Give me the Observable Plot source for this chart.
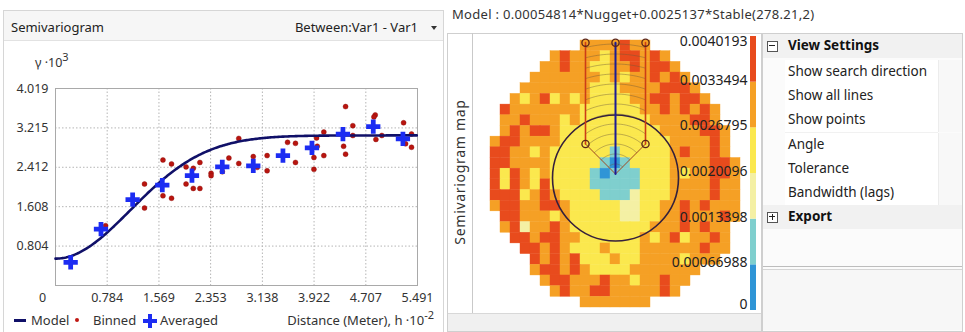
<!DOCTYPE html>
<html><head><meta charset="utf-8">
<script src="https://cdn.jsdelivr.net/npm/d3@7"></script>
<script src="https://cdn.jsdelivr.net/npm/@observablehq/plot@0.6"></script>
<style>
html,body{margin:0;padding:0}
body{width:965px;height:332px;background:#fff;font-family:"Noto Sans",sans-serif;color:#222;position:relative;overflow:hidden}
.abs{position:absolute}
.t{position:absolute;white-space:nowrap;line-height:1}
</style></head><body>
<script>
// ---------------- data ----------------
const xTicks = [0, 0.784, 1.569, 2.353, 3.138, 3.922, 4.707, 5.491];
const yTicks = [0.804, 1.608, 2.412, 3.215, 4.019];
// model: 0.00054814*Nugget + 0.0025137*Stable(278.21, 2)   (gamma x10^3, h x10^-2)
const modelNugget = 0.54814;
const modelPartialSill = 2.5137;
const modelRange = 2.7821;
const modelShape = 2;
const binned = [
  [0.76,1.22],[1.35,2.07],[1.35,1.58],[1.63,2.56],[1.76,2.48],[1.63,1.83],[1.76,1.78],
  [1.98,2.42],[2.19,2.51],[1.98,2.07],[2.09,1.98],[2.19,1.98],[2.09,2.39],[2.36,2.29],
  [2.36,2.24],[2.63,2.60],[2.53,2.32],[2.78,3.00],[2.78,2.49],[3.00,2.63],[3.06,2.41],
  [3.21,2.65],[3.21,2.34],[3.52,2.92],[3.64,2.90],[3.64,2.51],[3.96,3.01],[3.97,2.84],
  [3.92,2.61],[3.92,2.37],[4.07,3.13],[4.07,2.65],[4.40,3.65],[4.51,3.26],[4.51,3.06],
  [4.37,2.84],[4.40,2.68],[4.85,3.48],[4.83,3.44],[4.95,3.06],[4.86,2.98],[5.28,3.32],
  [5.31,2.89],[5.40,2.82],[5.40,3.09]
];
const averaged = [
  [0.23,0.47],[0.69,1.15],[1.17,1.75],[1.62,2.05],[2.07,2.24],[2.53,2.42],
  [3.00,2.44],[3.45,2.65],[3.89,2.81],[4.36,3.09],[4.82,3.24],[5.27,2.99]
];
// semivariogram surface (25 x 25 lag cells), one letter per colour class
const mapRows = [
  "........." + "ooooroo" + ".........",
  "......" + "oroooyorroro" + ".......",
  "....." + "oorooyyoororro" + "......",
  "...." + "oooooooyoyoororo" + ".....",
  "..." + "oooooooyyyoooorrro" + "....",
  ".." + "oyoryoyoyyyyoorrorro" + "...",
  "." + "roooooooyyyyyyoorororo" + "..",
  "." + "ooroooyoyyyyyyyoooorro" + "..",
  "." + "ororroyyyyyyyyyyoooorro" + ".",
  "orrooooyyyyyyyyyyyooooro" + ".",
  "rrooyoyyyyyytyyyyyorooro" + ".",
  "rrooooyyyyytbtyyyyoooorro",
  "ryroyoyyyytbtttyyyoyoorro",
  "ryroyr" + "yyyy" + "ttttt" + "yyy" + "oooo" + "roo",
  "rrryoro" + "yyyy" + "ttt" + "pyyy" + "oooo" + "roo",
  "orroorr" + "o" + "yyyyy" + "pp" + "yy" + "oo" + "r" + "o" + "roo" + "o",
  "." + "rrooo" + "yo" + "yyyyy" + "pp" + "yy" + "oo" + "r" + "ooo" + "ro",
  "." + "orpoor" + "o" + "yyyyyyyy" + "ooo" + "r" + "o" + "r" + "oo" + ".",
  ".." + "rrorroo" + "yyyyyy" + "oyoryoo" + "ro" + ".",
  "..." + "rroro" + "yyy" + "o" + "yyy" + "oooooo" + "r" + "oo" + ".",
  "...." + "rororyyyoyyooooyooo" + "..",
  "...." + "orror" + "o" + "yyyy" + "ooooooo" + "....",
  "....." + "orr" + "ooo" + "r" + "oo" + "y" + "oo" + "r" + "oo" + ".....",
  "......" + "or" + "oo" + "rr" + "ooooo" + "r" + "o" + "......",
  "........." + "ooooooo" + "........."
];
const classValue = {b: 0.00033, t: 0.0010, p: 0.00167, y: 0.00234, o: 0.00301, r: 0.00368};
const colorBreaks = [0.00066988, 0.0013398, 0.0020096, 0.0026795, 0.0033494];
const colorMax = 0.0040193;
const colorLabels = ["0", "0.00066988", "0.0013398", "0.0020096", "0.0026795", "0.0033494", "0.0040193"];
const binColors = ["#2f95d6", "#7fcfce", "#f4f0a4", "#fbe84e", "#f5a025", "#e84b1d"];
// search direction settings
const searchBandwidth = 3;      // lags
const searchTolerance = 45;     // degrees
const searchTop = 12.3;         // lags
const lagCount = 13;
const propItems = ["Show search direction", "Show all lines", "Show points", "Angle", "Tolerance", "Bandwidth (lags)"];

// ---------------- helpers ----------------
const body = document.body;
function box(x, y, w, h, css = "") {
  const d = document.createElement("div");
  d.className = "abs";
  d.style.cssText = `left:${x}px;top:${y}px;width:${w}px;height:${h}px;${css}`;
  body.appendChild(d); return d;
}
function txt(html, x, y, o = {}) {
  const d = document.createElement("div");
  d.className = "t";
  const tx = o.anchor === "end" ? "-100%" : o.anchor === "middle" ? "-50%" : "0";
  d.style.cssText = `left:${x}px;top:${y}px;transform:translate(${tx},-50%) ${o.rot || ""};font-size:${o.size || 13}px;font-weight:${o.weight || 400};color:${o.color || "#222"};${o.css || ""}`;
  d.innerHTML = html; body.appendChild(d); return d;
}
function place(svg, x, y) {
  svg.style.position = "absolute"; svg.style.left = x + "px"; svg.style.top = y + "px";
  body.appendChild(svg);
}

// ---------------- left panel ----------------
box(3, 10, 441, 330, "border:1px solid #d6d6d6;box-sizing:border-box;");
box(4, 11, 439, 29, "background:#f6f6f6;border-bottom:1px solid #e2e2e2;");
txt("Semivariogram", 11, 27, {size: 13});
txt("Between:Var1 - Var1", 418, 27, {size: 13, anchor: "end"});
box(431, 26, 0, 0, "border-left:3px solid transparent;border-right:3px solid transparent;border-top:4px solid #333;");
txt("&gamma; &middot;10<span style='font-size:11px;position:relative;top:-6px'>3</span>", 35, 63, {size: 12.5, color: "#333"});

const modelCurve = d3.range(0, 5.4911, 0.02).map(h => ({
  h, g: modelNugget + modelPartialSill * (1 - Math.exp(-3 * Math.pow(h / modelRange, modelShape)))
}));

const semi = Plot.plot({
  width: 445, height: 265,
  marginLeft: 55, marginRight: 28, marginTop: 43, marginBottom: 25,
  style: {fontFamily: "Noto Sans", fontSize: "12.5px", color: "#333", background: "transparent", overflow: "visible"},
  x: {domain: [0, 5.491], axis: null},
  y: {domain: [0, 4.019], axis: null},
  marks: [
    Plot.gridX(xTicks.slice(1, -1), {stroke: "#b5b5b5", strokeOpacity: 1, strokeDasharray: "1.5,2"}),
    Plot.gridY(yTicks.slice(0, -1), {stroke: "#b5b5b5", strokeOpacity: 1, strokeDasharray: "1.5,2"}),
    Plot.frame({stroke: "#a9a9a9"}),
    Plot.axisX([0], {tickSize: 0, tickPadding: 8, dx: -13, label: null, tickFormat: d => String(d)}),
    Plot.axisX(xTicks.slice(1), {tickSize: 0, tickPadding: 8, label: null, tickFormat: d => String(d)}),
    Plot.axisY(yTicks, {tickSize: 0, tickPadding: 7, label: null, tickFormat: d => String(d)}),
    Plot.dot(binned, {x: d => d[0], y: d => d[1], r: 2.5, fill: "#b8150f", stroke: "#8a0c0a", strokeWidth: 0.4}),
    Plot.line(modelCurve, {x: "h", y: "g", stroke: "#101068", strokeWidth: 2.6}),
    Plot.dot(averaged, {x: d => d[0], y: d => d[1], symbol: "cross", r: 6, fill: "#1c2cf2", stroke: "none"})
  ]
});
place(semi, 0, 45);

// legend
box(14, 319, 12, 3, "background:#101068;");
txt("Model", 31, 320, {size: 13, color: "#333"});
box(75, 318, 4, 4, "background:#c01812;border-radius:50%;");
txt("Binned", 93, 320, {size: 13, color: "#333"});
box(143, 318.5, 14, 4, "background:#1c2cf2;");
box(148, 313.5, 4, 14, "background:#1c2cf2;");
txt("Averaged", 160, 320, {size: 13, color: "#333"});
txt("Distance (Meter), h &middot;10<span style='font-size:11px;position:relative;top:-6px'>-2</span>", 434, 320, {size: 13, color: "#333", anchor: "end"});

// ---------------- right: model text & map panel ----------------
txt("Model : 0.00054814*Nugget+0.0025137*Stable(278.21,2)", 452, 14, {size: 13, color: "#333", css: "letter-spacing:0.3px;"});
box(447, 33, 315, 299, "border:1px solid #cfcfcf;box-sizing:border-box;background:#fff;");
box(472, 33, 1, 280, "background:#c9c9c9;");
box(448, 313, 313, 17, "background:#f0f0f0;border-top:1px solid #d8d8d8;");
txt("Semivariogram map", 460, 172, {size: 14, anchor: "middle", rot: "rotate(-90deg)", color: "#333", css: "letter-spacing:0.7px;"});

const nCols = 25, nRows = 25, half = 12.5;
const cells = [];
mapRows.forEach((row, r) => {
  row.padEnd(nCols, ".").slice(0, nCols).split("").forEach((code, c) => {
    if (classValue[code] !== undefined) cells.push({x1: c - half, x2: c - half + 1, y1: half - r, y2: half - r - 1, v: classValue[code]});
  });
});
const mapW = 290, mapH = 280, mL = 18, mR = 22, mT = 7, mB = 6;
const pxX = (mapW - mL - mR) / nCols, pxY = (mapH - mT - mB) / nRows;
const ratio = pxX / pxY;
const arcs = [];
for (let k = 1; k <= lagCount; k++) {
  const tmax = Math.min(searchTolerance * Math.PI / 180, k > searchBandwidth ? Math.asin(Math.min(1, searchBandwidth / k)) : Math.PI / 2);
  d3.range(-tmax, tmax + 1e-9, tmax / 20).forEach(t => arcs.push({k, x: k * Math.sin(t), y: k * Math.cos(t) * ratio}));
}
const bwY = searchBandwidth * ratio;
const sideLines = [
  {id: "L", x: -searchBandwidth, y: bwY}, {id: "L", x: -searchBandwidth, y: searchTop},
  {id: "R", x: searchBandwidth, y: bwY}, {id: "R", x: searchBandwidth, y: searchTop}
];
const diag = [{x: -searchBandwidth, y: bwY}, {x: 0, y: 0}, {x: searchBandwidth, y: bwY}];
const centerLine = [{x: 0, y: 0}, {x: 0, y: searchTop}];
const knobs = [{x: 0, y: searchTop}, {x: -searchBandwidth, y: searchTop}, {x: searchBandwidth, y: searchTop}, {x: -searchBandwidth, y: bwY}, {x: searchBandwidth, y: bwY}];
const colorScale = {type: "threshold", domain: colorBreaks, range: binColors};

const map = Plot.plot({
  width: mapW, height: mapH, marginLeft: mL, marginRight: mR, marginTop: mT, marginBottom: mB,
  style: {background: "transparent", overflow: "visible"},
  x: {domain: [-half, half], axis: null},
  y: {domain: [-half, half], axis: null},
  color: colorScale,
  marks: [
    Plot.rect(cells, {x1: "x1", x2: "x2", y1: "y1", y2: "y2", fill: "v", stroke: "v", strokeWidth: 0.4}),
    Plot.line(arcs, {x: "x", y: "y", z: "k", stroke: "#6e5a3a", strokeOpacity: 0.55, strokeWidth: 0.8}),
    Plot.dot([{x: 0, y: 0}], {x: "x", y: "y", r: 63, dy: 4, stroke: "#35203c", strokeWidth: 1.6, fill: "none"}),
    Plot.line(diag, {x: "x", y: "y", stroke: "#a04a22", strokeWidth: 1}),
    Plot.line(sideLines, {x: "x", y: "y", z: "id", stroke: "#cc3d17", strokeWidth: 1.6}),
    Plot.line(centerLine, {x: "x", y: "y", stroke: "#1b1b96", strokeWidth: 2}),
    Plot.dot(knobs, {x: "x", y: "y", r: 3.6, stroke: "#5a2418", strokeWidth: 1.3, fill: "none"})
  ]
});
place(map, 472, 33);

// colour bar
const barBounds = [0, ...colorBreaks, colorMax];
const bins = d3.range(6).map(i => ({y1: barBounds[i], y2: barBounds[i + 1], v: (barBounds[i] + barBounds[i + 1]) / 2}));
const labs = barBounds.map((v, i) => ({v, label: colorLabels[i], i}));
const bar = Plot.plot({
  width: 80, height: 285, marginLeft: 70, marginRight: 4, marginTop: 6, marginBottom: 5,
  style: {fontFamily: "Noto Sans", background: "transparent", overflow: "visible"},
  x: {axis: null}, y: {domain: [0, colorMax], axis: null},
  color: colorScale,
  marks: [
    Plot.rect(bins, {y1: "y1", y2: "y2", fill: "v"}),
    Plot.text(labs.filter(d => d.i === 6), {y: "v", text: "label", frameAnchor: "left", textAnchor: "end", dx: -3, dy: 5, fontSize: 14, fill: "#222"}),
    Plot.text(labs.filter(d => d.i > 0 && d.i < 6), {y: "v", text: "label", frameAnchor: "left", textAnchor: "end", dx: -3, dy: -2, fontSize: 14, fill: "#222"}),
    Plot.text(labs.filter(d => d.i === 0), {y: "v", text: "label", frameAnchor: "left", textAnchor: "end", dx: -3, dy: -6, fontSize: 14, fill: "#222"})
  ]
});
place(bar, 680, 30);

// ---------------- property panel ----------------
box(762, 33, 201, 299, "border:1px solid #cfcfcf;box-sizing:border-box;background:#fbfbfb;");
box(763, 34, 199, 24, "background:#f1f1f1;");
function expander(x, y, plus) {
  box(x, y, 9, 9, "border:1px solid #555;box-sizing:content-box;background:#fff;");
  box(x + 2, y + 4, 6, 1, "background:#222;");
  if (plus) box(x + 4.5, y + 2, 1, 6, "background:#222;");
}
expander(767, 41, false);
txt("View Settings", 788, 46, {size: 13.5, weight: 700, color: "#111"});
propItems.forEach((s, i) => {
  const cy = 72 + i * 24.2;
  box(785, cy - 12, 153, 24, "background:#fff;border-bottom:1px solid #f1f1f1;");
  box(938, cy - 12, 23, 24, "background:#f8f8f8;border-left:1px solid #ececec;");
  txt(s, 788, cy, {size: 13.5, color: "#222"});
});
box(763, 205, 199, 24, "background:#f1f1f1;");
expander(767, 212, true);
txt("Export", 788, 217, {size: 13.5, weight: 700, color: "#111"});
box(763, 266, 199, 1, "background:#bdbdbd;");
box(763, 269, 199, 1, "background:#d5d5d5;");
box(763, 270, 199, 60, "background:#f7f7f7;");
</script>
</body></html>
